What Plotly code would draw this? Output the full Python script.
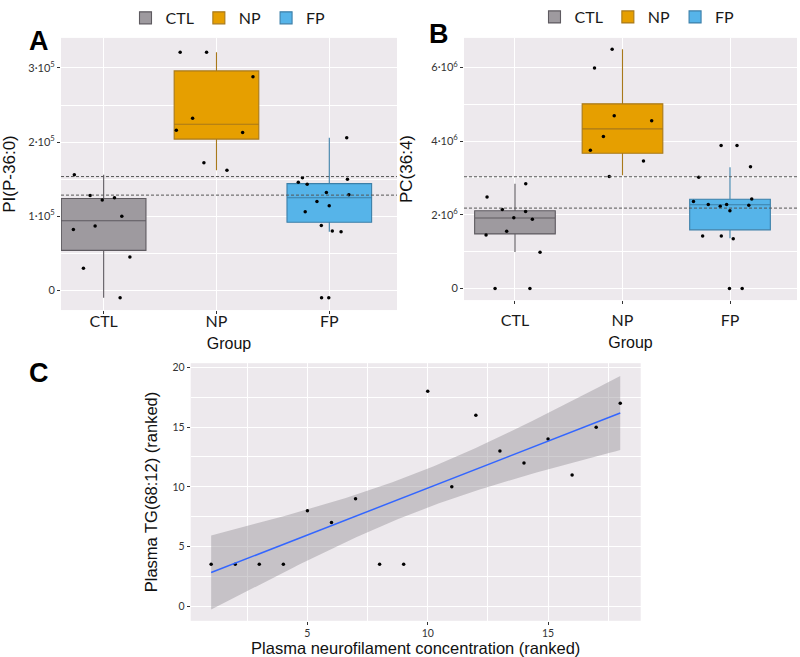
import numpy as np
import plotly.graph_objects as go

# ---------------- data ----------------
groups = ["CTL", "NP", "FP"]
group_fill = ["#9E9A9F", "#E69F00", "#56B4E9"]
group_line = ["#5E5A60", "#A8791A", "#3C7FA8"]

# Panel A: PI(P-36:0)
a_ctl = [-9800, 30000, 45000, 82000, 87000, 100000, 122000, 125000, 128000, 156000]
a_np = [321000, 321000, 288000, 232000, 216000, 213000, 162000, 172000]
a_fp = [206000, 150000, 80000, 79000, 114000, 106000, 132000, 143000, 87500,
        129000, 120000, 152000, 146000, -10000, -10000]
a_q1 = [54000, 204000, 92000]
a_median = [94000, 224000, 125000]
a_q3 = [124000, 296000, 144000]
a_lower = [-10000, 162000, 79000]
a_upper = [156000, 321000, 206000]
a_reflines = [153500, 128500]
a_tickvals = [0, 100000, 200000, 300000]
a_ticktext = ["0", "1·10<sup>5</sup>", "2·10<sup>5</sup>", "3·10<sup>5</sup>"]

# Panel B: PC(36:4)
b_ctl = [2.84e6, 2.48e6, 2.09e6, 1.88e6, 1.92e6, 2.14e6, 1.55e6, 1.45e6, 0.98e6, 0, 0]
b_np = [6.49e6, 5.98e6, 4.69e6, 4.55e6, 4.12e6, 3.75e6, 3.46e6, 3.04e6]
b_fp = [3.30e6, 3.88e6, 3.88e6, 3.02e6, 2.26e6, 2.11e6, 2.28e6, 2.43e6, 2.36e6,
        2.23e6, 2.28e6, 1.42e6, 1.35e6, 1.42e6, 0, 0]
b_q1 = [1.48e6, 3.67e6, 1.59e6]
b_median = [1.91e6, 4.33e6, 2.27e6]
b_q3 = [2.11e6, 5.01e6, 2.42e6]
b_lower = [0.99e6, 3.07e6, 1.36e6]
b_upper = [2.84e6, 6.49e6, 3.29e6]
b_reflines = [3.03e6, 2.18e6]
b_tickvals = [0, 2e6, 4e6, 6e6]
b_ticktext = ["0", "2·10<sup>6</sup>", "4·10<sup>6</sup>", "6·10<sup>6</sup>"]

# Panel C: ranked correlation
c_nfl_rank = [1, 2, 3, 4, 5, 6, 7, 8, 9, 10, 11, 12, 13, 14, 15, 16, 17, 18]
c_tg_rank = [3.5, 3.5, 3.5, 3.5, 8, 7, 9, 3.5, 3.5, 18, 10, 16, 13, 12, 14, 11, 15, 17]

# ---------------- styling ----------------
PANEL_BG = "#EDE9ED"
TICK_FONT = dict(family="Lato, Open Sans, sans-serif", size=16, color="#1A1A1A")
YTICK_FONT = dict(family="Lato, Open Sans, sans-serif", size=11, color="#333333")
TITLE_FONT = dict(family="Arial, Liberation Sans, sans-serif", size=17, color="#111111")
H = 657.0


def ydom(top_px, bottom_px):
    return [1 - bottom_px / H, 1 - top_px / H]


fig = go.Figure()


def add_box_panel(xref, yref, legend, series, q1, med, q3, lo, up):
    for i, g in enumerate(groups):
        fig.add_trace(go.Box(
            x=[g], q1=[q1[i]], median=[med[i]], q3=[q3[i]],
            lowerfence=[lo[i]], upperfence=[up[i]],
            name=g, fillcolor=group_fill[i],
            line=dict(color=group_line[i], width=1.1),
            whiskerwidth=0, boxpoints=False,
            xaxis=xref, yaxis=yref, legend=legend, showlegend=True,
        ))
    xs, ys = [], []
    for g, vals in zip(groups, series):
        xs += [g] * len(vals)
        ys += list(vals)
    fig.add_trace(go.Box(
        x=xs, y=ys, boxpoints="all", jitter=1.0, pointpos=0,
        fillcolor="rgba(0,0,0,0)", line=dict(color="rgba(0,0,0,0)", width=0),
        marker=dict(color="black", size=3.5), whiskerwidth=0,
        xaxis=xref, yaxis=yref, showlegend=False, hoveron="points",
    ))


add_box_panel("x", "y", "legend", [a_ctl, a_np, a_fp], a_q1, a_median, a_q3, a_lower, a_upper)
add_box_panel("x2", "y2", "legend2", [b_ctl, b_np, b_fp], b_q1, b_median, b_q3, b_lower, b_upper)

# Panel C: scatter + linear fit with 95% CI
xc = np.array(c_nfl_rank, dtype=float)
yc = np.array(c_tg_rank, dtype=float)
n = len(xc)
slope, intercept = np.polyfit(xc, yc, 1)
resid = yc - (slope * xc + intercept)
s = np.sqrt(np.sum(resid ** 2) / (n - 2))
sxx = np.sum((xc - xc.mean()) ** 2)
t_crit = 2.1199  # qt(0.975, df=16)
xg = np.linspace(xc.min(), xc.max(), 80)
yg = slope * xg + intercept
half = t_crit * s * np.sqrt(1.0 / n + (xg - xc.mean()) ** 2 / sxx)

fig.add_trace(go.Scatter(x=xg, y=yg - half, mode="lines", line=dict(width=0),
                         xaxis="x3", yaxis="y3", showlegend=False, hoverinfo="skip"))
fig.add_trace(go.Scatter(x=xg, y=yg + half, mode="lines", line=dict(width=0),
                         fill="tonexty", fillcolor="rgba(150,147,152,0.45)",
                         xaxis="x3", yaxis="y3", showlegend=False, hoverinfo="skip"))
fig.add_trace(go.Scatter(x=xc, y=yc, mode="markers", marker=dict(color="black", size=3.5),
                         xaxis="x3", yaxis="y3", showlegend=False))
fig.add_trace(go.Scatter(x=xg, y=yg, mode="lines", line=dict(color="#3366FF", width=1.5),
                         xaxis="x3", yaxis="y3", showlegend=False))

# reference dashed lines
for v in a_reflines:
    fig.add_shape(type="line", xref="x domain", yref="y", x0=0, x1=1, y0=v, y1=v,
                  line=dict(color="#555555", width=1, dash="3px,2px"))
for v in b_reflines:
    fig.add_shape(type="line", xref="x2 domain", yref="y2", x0=0, x1=1, y0=v, y1=v,
                  line=dict(color="#555555", width=1, dash="3px,2px"))

grid = dict(showgrid=True, gridcolor="white", gridwidth=1.1, zeroline=False,
            ticks="outside", ticklen=3, tickwidth=1, tickcolor="#333333",
            showline=False)

legend_font = dict(family="Lato, Open Sans, sans-serif", size=16, color="#1A1A1A")

fig.update_layout(
    width=800, height=657,
    margin=dict(l=0, r=0, t=0, b=0),
    paper_bgcolor="white", plot_bgcolor=PANEL_BG,
    boxgap=0.25, boxgroupgap=0, boxmode="overlay",
    font=dict(family="Arial, Liberation Sans, sans-serif"),
    xaxis=dict(domain=[61 / 800, 397 / 800], anchor="y", type="category",
               categoryorder="array", categoryarray=groups, range=[-0.378, 2.6],
               tickfont=TICK_FONT, ticklabelstandoff=-6,
               title=dict(text="Group", font=dict(TITLE_FONT, size=16), standoff=8), **grid),
    yaxis=dict(domain=ydom(36, 309), anchor="x", range=[-26500, 340500],
               tickmode="array", tickvals=a_tickvals, ticktext=a_ticktext,
               tickfont=YTICK_FONT,
               minor=dict(tickmode="linear", tick0=0, dtick=50000, showgrid=True,
                          gridcolor="white", gridwidth=0.6, ticks=""),
               title=dict(text="PI(P-36:0)", font=TITLE_FONT, standoff=14), **grid),
    xaxis2=dict(domain=[464 / 800, 797 / 800], anchor="y2", type="category",
                categoryorder="array", categoryarray=groups, range=[-0.474, 2.623],
                tickfont=TICK_FONT, ticklabelstandoff=3,
                title=dict(text="Group", font=dict(TITLE_FONT, size=16), standoff=8), **grid),
    yaxis2=dict(domain=ydom(36, 299), anchor="x2", range=[-0.317e6, 6.80e6],
                tickmode="array", tickvals=b_tickvals, ticktext=b_ticktext,
                tickfont=YTICK_FONT,
                minor=dict(tickmode="linear", tick0=0, dtick=1e6, showgrid=True,
                           gridcolor="white", gridwidth=0.6, ticks=""),
                title=dict(text="PC(36:4)", font=TITLE_FONT, standoff=14), **grid),
    xaxis3=dict(domain=[190.7 / 800, 640.7 / 800], anchor="y3", range=[0.15, 18.85],
                tickmode="linear", tick0=0, dtick=5,
                tickfont=dict(YTICK_FONT, size=10.5),
                minor=dict(tickmode="linear", tick0=0, dtick=2.5, showgrid=True,
                           gridcolor="white", gridwidth=0.6, ticks=""),
                title=dict(text="Plasma neurofilament concentration (ranked)",
                           font=dict(TITLE_FONT, size=16.5), standoff=4), **grid),
    yaxis3=dict(domain=ydom(362.3, 620.7), anchor="x3", range=[-1.23, 20.36],
                tickmode="linear", tick0=0, dtick=5,
                tickfont=dict(YTICK_FONT, size=10.5),
                minor=dict(tickmode="linear", tick0=0, dtick=2.5, showgrid=True,
                           gridcolor="white", gridwidth=0.6, ticks=""),
                title=dict(text="Plasma TG(68:12) (ranked)",
                           font=dict(TITLE_FONT, size=16.5), standoff=10), **grid),
    legend=dict(orientation="h", traceorder="normal", x=228 / 800, xanchor="center",
                y=1 - 16 / H, yanchor="middle", font=legend_font,
                bgcolor="rgba(0,0,0,0)"),
    legend2=dict(orientation="h", traceorder="normal", x=637 / 800, xanchor="center",
                 y=1 - 15 / H, yanchor="middle", font=legend_font,
                 bgcolor="rgba(0,0,0,0)"),
    annotations=[
        dict(text="<b>A</b>", x=27 / 800, y=1 - 22 / H, xref="paper", yref="paper",
             showarrow=False, font=dict(family="Arial, Liberation Sans", size=27, color="black")),
        dict(text="<b>B</b>", x=439 / 800, y=1 - 15 / H, xref="paper", yref="paper",
             showarrow=False, font=dict(family="Arial, Liberation Sans", size=27, color="black")),
        dict(text="<b>C</b>", x=27 / 800, y=1 - 372 / H, xref="paper", yref="paper",
             showarrow=False, font=dict(family="Arial, Liberation Sans", size=27, color="black")),
    ],
)

fig.write_html("out.html", config={"displayModeBar": False},
               post_script="document.body.style.margin='0';")
